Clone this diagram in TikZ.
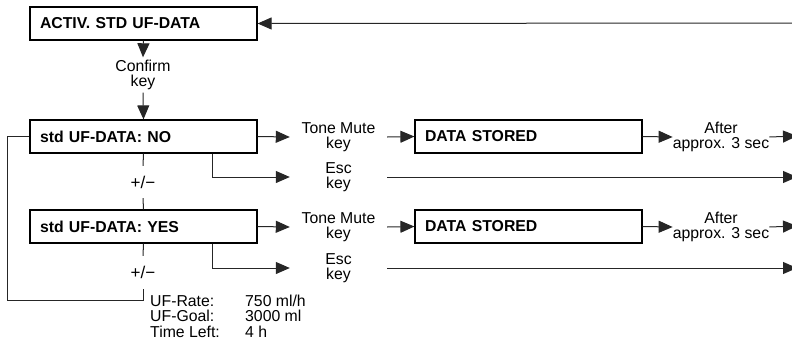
\documentclass[tikz,border=0pt]{standalone}
\usepackage{fontspec}
\setmainfont{Liberation Sans}
\usetikzlibrary{arrows.meta}
\tikzset{
  box/.style={draw=black, line width=1.2pt, minimum height=33pt, text width=207pt, inner xsep=10pt, inner ysep=0pt, align=left, font=\fontsize{15.8}{16}\selectfont\bfseries},
  lbl/.style={inner sep=0pt, align=center, font=\fontsize{15.8}{15.5}\selectfont},
  txt/.style={inner sep=0pt, anchor=base west, font=\fontsize{15.8}{15.5}\selectfont},
  conn/.style={draw=black!85, line width=1pt},
  arr/.style={conn, -{Triangle[length=14pt,width=12pt]}},
}
\begin{document}
\begin{tikzpicture}[x=1pt,y=-1pt]
\useasboundingbox (0,0) rectangle (792,343);

% boxes
\node[box] (activ) at (143.5,23.5) {ACTIV. STD UF-DATA};
\node[box] (no) at (143.5,136.5) {std UF-DATA: NO};
\node[box] (yes) at (143.5,226.5) {std UF-DATA: YES};
\node[box] (ds1) at (528.5,136.5) {DATA STORED};
\node[box] (ds2) at (528.5,226.5) {DATA STORED};

% labels
\node[lbl, minimum height=35pt] (conf) at (143,75) {Confirm\\key};
\node[lbl, minimum width=97pt] (tm1) at (338.5,137) {Tone Mute\\key};
\node[lbl, minimum width=97pt] (esc1) at (338.5,177) {Esc\\key};
\node[lbl, minimum width=97pt] (tm2) at (338.5,227) {Tone Mute\\key};
\node[lbl, minimum width=97pt] (esc2) at (338.5,268) {Esc\\key};
\node[lbl, minimum width=95pt] (aft1) at (721,137) {After\\approx. 3 sec};
\node[lbl, minimum width=95pt] (aft2) at (721,227) {After\\approx. 3 sec};
\node[lbl, minimum height=32pt, font=\fontsize{17}{17}\selectfont] (pm1) at (143,182) {\raisebox{-2pt}{+/−}};
\node[lbl, minimum height=33pt, font=\fontsize{17}{17}\selectfont] (pm2) at (143,272.5) {\raisebox{-1.5pt}{+/−}};

% bottom info text
\node[txt] (r1) at (150,306) {UF-Rate:};
\node[txt] (r2) at (150,321.5) {UF-Goal:};
\node[txt] (r3) at (150,337) {Time Left:};
\node[txt] (v1) at (245,306) {750 ml/h};
\node[txt] (v2) at (245,321.5) {3000 ml};
\node[txt] (v3) at (245,337) {4 h};

% free ends
\coordinate (topin) at (792,23);
\coordinate (e1) at (797,136);
\coordinate (e2) at (797,177);
\coordinate (e3) at (797,226);
\coordinate (e4) at (797,268);
\coordinate (lp) at (7,300);

% connectors
\draw[arr] (topin) -- (activ.east);
\draw[arr] (activ.south) -- (conf.north);
\draw[arr] (conf.south) -- (no.north);

\draw[arr] (no.east) -- (tm1.west);
\draw[arr] (tm1.east) -- (ds1.west);
\draw[arr] (ds1.east) -- (aft1.west);
\draw[arr] (aft1.east) -- (e1);
\draw[arr] ([xshift=-45pt]no.south east) |- (esc1.west);
\draw[arr] (esc1.east) -- (e2);

\draw[arr] (yes.east) -- (tm2.west);
\draw[arr] (tm2.east) -- (ds2.west);
\draw[arr] (ds2.east) -- (aft2.west);
\draw[arr] (aft2.east) -- (e3);
\draw[arr] ([xshift=-45pt]yes.south east) |- (esc2.west);
\draw[arr] (esc2.east) -- (e4);

\draw[conn] (no.south) -- (pm1.north);
\draw[conn] (pm1.south) -- (yes.north);
\draw[conn] (yes.south) -- (pm2.north);
\draw[conn] (pm2.south) |- (lp) |- (no.west);
\end{tikzpicture}
\end{document}
